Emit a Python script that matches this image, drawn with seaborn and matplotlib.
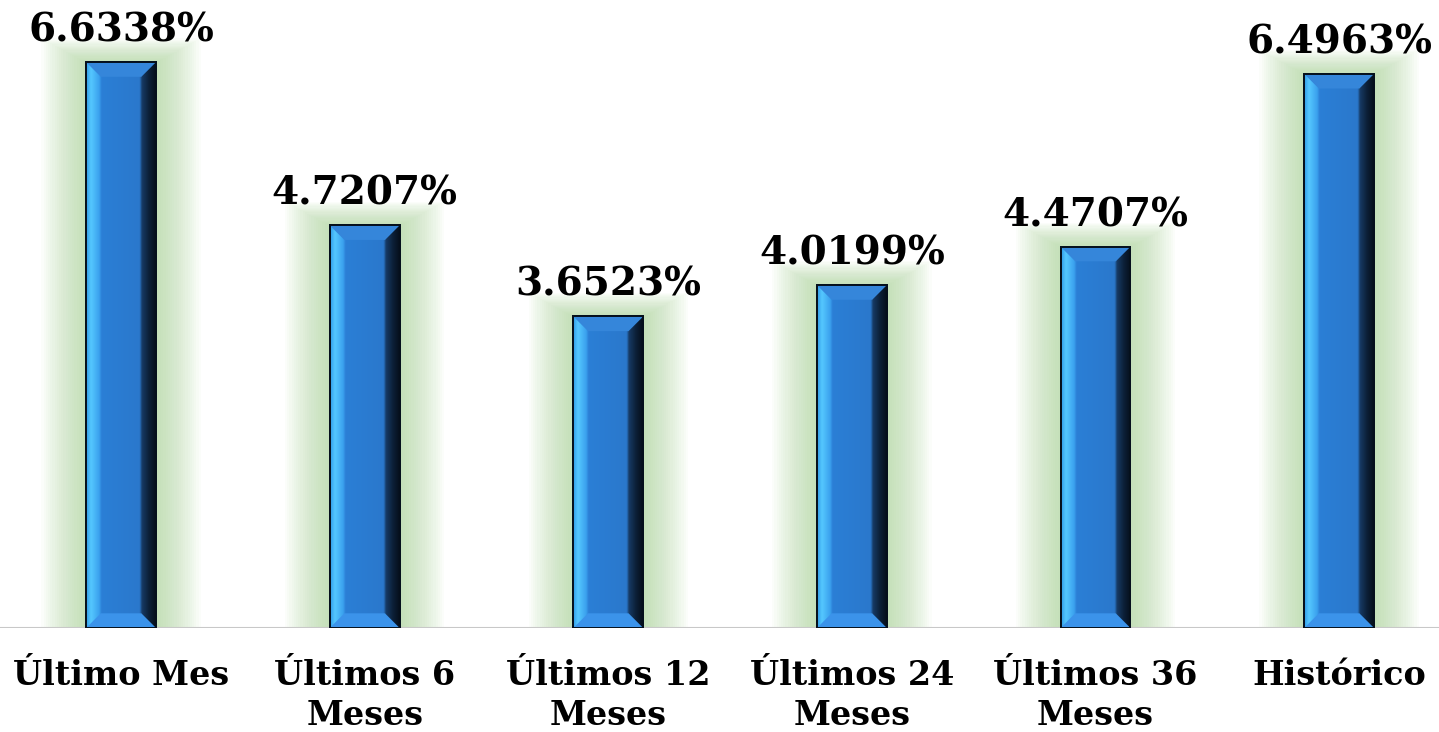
import seaborn as sns
import pandas as pd
import numpy as np
import matplotlib.pyplot as plt
from matplotlib.patches import Rectangle, Polygon
from matplotlib.colors import LinearSegmentedColormap

# data
categories = ["Último Mes", "Últimos 6\nMeses", "Últimos 12\nMeses",
              "Últimos 24\nMeses", "Últimos 36\nMeses", "Histórico"]
values = [6.6338, 4.7207, 3.6523, 4.0199, 4.4707, 6.4963]
labels = ["6.6338%", "4.7207%", "3.6523%", "4.0199%", "4.4707%", "6.4963%"]

df = pd.DataFrame({"periodo": categories, "valor": values})

sns.set_theme(style="white")
plt.rcParams['font.family'] = ['DejaVu Serif']

fig = plt.figure(figsize=(14.39, 7.32), dpi=100)
ax = fig.add_axes([0, 104 / 732, 1, 628 / 732])

sns.barplot(data=df, x="periodo", y="valor", ax=ax, width=0.287,
            color="#2b7fd6", edgecolor="#05101c", linewidth=1.2, zorder=3)

ax.set_xlim(-0.497, 5.41)
ax.set_ylim(0, 7.362)
for s in ax.spines.values():
    s.set_visible(False)
ax.set_yticks([])
ax.set_xlabel("")
ax.set_ylabel("")
ax.tick_params(axis="x", length=0, pad=22)
for t in ax.get_xticklabels():
    t.set_fontsize(24)
    t.set_fontweight("bold")
    t.set_color("black")
    t.set_linespacing(1.3)

ax.axhline(0, color="#c8c8c8", lw=1.5, zorder=2)

fig.canvas.draw()
# pixel -> data scale
px_x = (ax.get_xlim()[1] - ax.get_xlim()[0]) / ax.bbox.width
px_y = (ax.get_ylim()[1] - ax.get_ylim()[0]) / ax.bbox.height

face = LinearSegmentedColormap.from_list("face", [
    (0.0, "#2f9ae6"), (0.07, "#55c8ff"), (0.19, "#3aa0ee"), (0.22, "#2b7fd6"),
    (0.77, "#2a78cc"), (0.80, "#173b66"), (0.90, "#0c2038"), (1.0, "#050e1a")])
grad = np.linspace(0, 1, 256).reshape(1, -1)

for p, lab in zip(ax.patches, labels):
    x0, y0 = p.get_x(), p.get_y()
    w, h = p.get_width(), p.get_height()
    x1, y1 = x0 + w, y0 + h
    # soft green glow
    for k in range(20):
        pad = (3 + k * 2.2) * px_x
        padt = (1 + k * 1.2) * px_y
        ax.add_patch(Rectangle((x0 - pad, 0), w + 2 * pad, h + padt,
                               color="#a6d294", alpha=0.045, lw=0, zorder=1))
    # gradient face
    im = ax.imshow(grad, cmap=face, aspect="auto", extent=(x0, x1, y0, y1),
                   zorder=3.5, interpolation="bicubic")
    im.set_clip_path(p)
    dx = 0.21 * w
    dy = dx / px_x * px_y
    ax.add_patch(Polygon([(x0, y1), (x1, y1), (x1 - dx, y1 - dy), (x0 + dx, y1 - dy)],
                         closed=True, facecolor="#3586da", edgecolor="none", zorder=4))
    ax.add_patch(Polygon([(x0, y0), (x1, y0), (x1 - dx, y0 + dy), (x0 + dx, y0 + dy)],
                         closed=True, facecolor="#3b93ea", edgecolor="none", zorder=4))
    ax.add_patch(Rectangle((x0, y0), w, h, fill=False, edgecolor="#05101c",
                           lw=1.4, zorder=5))
    ax.annotate(lab, (x0 + w / 2, y1), xytext=(0, 9), textcoords="offset points",
                ha="center", va="bottom", fontsize=28, fontweight="bold",
                color="black", zorder=6)

fig.savefig("out.png", dpi=100, facecolor="white")
